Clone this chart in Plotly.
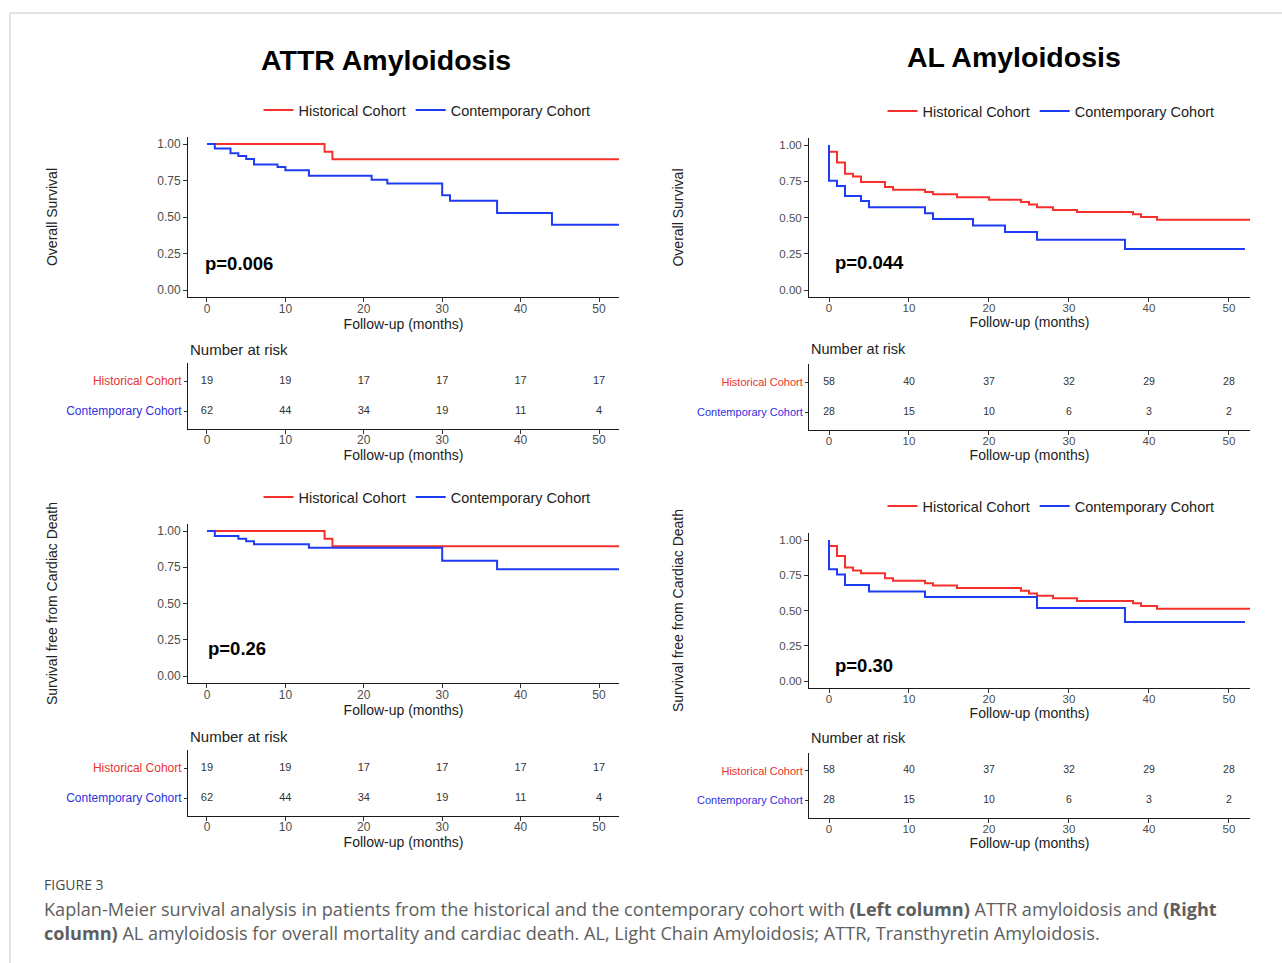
import plotly.graph_objects as go

W, H = 1282, 963
RED = "#f8302c"
BLUE = "#1f3cf5"
RED_TXT = "#e8332f"
BLUE_TXT = "#2f2fe0"
FONT = "Liberation Sans, Arial, sans-serif"

# ---------------- data ----------------
cohorts = ["Historical Cohort", "Contemporary Cohort"]
risk_times = [0, 10, 20, 30, 40, 50]

# ATTR - overall survival
attr_os_hist_t = [0, 15, 16, 53]
attr_os_hist_s = [1.0, 0.947, 0.895, 0.895]
attr_os_cont_t = [0, 1, 3, 4, 5, 6, 9, 10, 13, 21, 23, 30, 31, 37, 44, 53]
attr_os_cont_s = [1.0, 0.970, 0.936, 0.917, 0.897, 0.860, 0.842, 0.821, 0.782,
                  0.755, 0.729, 0.649, 0.612, 0.528, 0.447, 0.447]

# AL - overall survival
al_os_hist_t = [0, 0, 1, 2, 3, 4, 7, 8, 12, 13, 16, 20, 24, 25, 26, 28, 31, 38, 39, 41, 53]
al_os_hist_s = [1.0, 0.954, 0.880, 0.802, 0.782, 0.745, 0.710, 0.692, 0.676, 0.660,
                0.639, 0.623, 0.607, 0.589, 0.570, 0.552, 0.538, 0.522, 0.503, 0.485, 0.485]
al_os_cont_t = [0, 0, 1, 2, 4, 5, 12, 13, 18, 22, 26, 37, 52]
al_os_cont_s = [1.0, 0.754, 0.717, 0.648, 0.614, 0.570, 0.529, 0.490, 0.444, 0.400,
                0.347, 0.283, 0.283]

# ATTR - survival free from cardiac death
attr_cd_hist_t = [0, 15, 16, 53]
attr_cd_hist_s = [1.0, 0.947, 0.895, 0.895]
attr_cd_cont_t = [0, 1, 4, 5, 6, 13, 30, 37, 53]
attr_cd_cont_s = [1.0, 0.966, 0.947, 0.929, 0.908, 0.885, 0.794, 0.736, 0.736]

# AL - survival free from cardiac death
al_cd_hist_t = [0, 0, 1, 2, 3, 4, 7, 8, 12, 13, 16, 24, 25, 26, 28, 31, 38, 39, 41, 53]
al_cd_hist_s = [1.0, 0.958, 0.887, 0.805, 0.784, 0.765, 0.729, 0.711, 0.694, 0.678,
                0.659, 0.640, 0.621, 0.605, 0.586, 0.567, 0.551, 0.532, 0.513, 0.513]
al_cd_cont_t = [0, 0, 1, 2, 5, 12, 26, 37, 52]
al_cd_cont_s = [1.0, 0.793, 0.755, 0.680, 0.635, 0.595, 0.518, 0.419, 0.419]

# Number at risk
attr_risk_hist = [19, 19, 17, 17, 17, 17]
attr_risk_cont = [62, 44, 34, 19, 11, 4]
al_risk_hist = [58, 40, 37, 32, 29, 28]
al_risk_cont = [28, 15, 10, 6, 3, 2]

p_values = ["p=0.006", "p=0.044", "p=0.26", "p=0.30"]
titles = ["ATTR Amyloidosis", "AL Amyloidosis"]
y_titles = ["Overall Survival", "Overall Survival",
            "Survival free from Cardiac Death", "Survival free from Cardiac Death"]
x_title = "Follow-up (months)"


def dx(a, b):
    return [a / W, b / W]


def dy(top, bottom):
    return [1 - bottom / H, 1 - top / H]


fig = go.Figure()
layout = {}

panels = [
    dict(xd=(188, 619), yd=(136.7, 297.3), xr=[-2.42, 52.55], leg=(427, 110), right=False,
         curves=((attr_os_hist_t, attr_os_hist_s), (attr_os_cont_t, attr_os_cont_s)),
         p=(-0.55, 0.18), ystand=96),
    dict(xd=(809, 1250), yd=(137.75, 297.25), xr=[-2.5, 52.63], leg=(1051, 111), right=True,
         curves=((al_os_hist_t, al_os_hist_s), (al_os_cont_t, al_os_cont_s)),
         p=(0.55, 0.19), ystand=92),
    dict(xd=(188, 619), yd=(523.75, 683.25), xr=[-2.42, 52.55], leg=(427, 497), right=False,
         curves=((attr_cd_hist_t, attr_cd_hist_s), (attr_cd_cont_t, attr_cd_cont_s)),
         p=(-0.15, 0.19), ystand=96),
    dict(xd=(809, 1250), yd=(532.95, 688.05), xr=[-2.5, 52.63], leg=(1051, 506), right=True,
         curves=((al_cd_hist_t, al_cd_hist_s), (al_cd_cont_t, al_cd_cont_s)),
         p=(0.55, 0.11), ystand=92),
]

tables = [
    dict(xd=(188, 619), yd=(363, 429), xr=[-2.42, 52.55], right=False,
         vals=(attr_risk_hist, attr_risk_cont), title_y=349),
    dict(xd=(809, 1250), yd=(364, 430), xr=[-2.5, 52.63], right=True,
         vals=(al_risk_hist, al_risk_cont), title_y=349),
    dict(xd=(188, 619), yd=(750, 816), xr=[-2.42, 52.55], right=False,
         vals=(attr_risk_hist, attr_risk_cont), title_y=736),
    dict(xd=(809, 1250), yd=(753, 818), xr=[-2.5, 52.63], right=True,
         vals=(al_risk_hist, al_risk_cont), title_y=738),
]

annotations = []

axis_common = dict(showline=True, linecolor="#1a1a1a", linewidth=1, ticks="outside",
                   ticklen=4, tickwidth=1, tickcolor="#333333", showgrid=False,
                   zeroline=False, fixedrange=True)

for i, pn in enumerate(panels):
    n = i + 1
    xa = "xaxis" if n == 1 else f"xaxis{n}"
    ya = "yaxis" if n == 1 else f"yaxis{n}"
    xr = "x" if n == 1 else f"x{n}"
    yr = "y" if n == 1 else f"y{n}"
    tfs = 11.5 if pn["right"] else 12
    layout[xa] = dict(axis_common, domain=dx(*pn["xd"]), range=pn["xr"], anchor=yr,
                      tickvals=risk_times, ticklabelstandoff=-4,
                      tickfont=dict(size=tfs, color="#4d4d4d", family=FONT),
                      title=dict(text=x_title, font=dict(size=14, color="#222", family=FONT), standoff=1))
    layout[ya] = dict(axis_common, domain=dy(*pn["yd"]), range=[-0.05, 1.05], anchor=xr,
                      tickvals=[0, 0.25, 0.5, 0.75, 1.0], tickformat=".2f",
                      tickfont=dict(size=tfs, color="#4d4d4d", family=FONT),
                      title=dict(text=y_titles[i], font=dict(size=14, color="#222", family=FONT),
                                 standoff=pn["ystand"]))
    legname = "legend" if n == 1 else f"legend{n}"
    for (t, s), name, col in zip(pn["curves"], cohorts, (RED, BLUE)):
        fig.add_trace(go.Scatter(x=t, y=s, mode="lines", name=name,
                                 line=dict(shape="hv", color=col, width=2),
                                 xaxis=xr, yaxis=yr, legend=legname, showlegend=True,
                                 hoverinfo="skip"))
    layout[legname] = dict(orientation="h", x=pn["leg"][0] / W, y=1 - pn["leg"][1] / H,
                           xanchor="center", yanchor="middle", bgcolor="rgba(0,0,0,0)",
                           font=dict(size=14.5, color="#222", family=FONT),
                           itemwidth=30, tracegroupgap=0)
    annotations.append(dict(text=f"<b>{p_values[i]}</b>", x=pn["p"][0], y=pn["p"][1],
                            xref=xr, yref=yr, xanchor="left", yanchor="middle",
                            showarrow=False, font=dict(size=18.5, color="black", family=FONT)))

for i, tb in enumerate(tables):
    n = i + 5
    xa, ya = f"xaxis{n}", f"yaxis{n}"
    xr, yr = f"x{n}", f"y{n}"
    lfs = 11 if tb["right"] else 12
    nfs = 10.5 if tb["right"] else 11
    layout[xa] = dict(axis_common, domain=dx(*tb["xd"]), range=tb["xr"], anchor=yr,
                      tickvals=risk_times, ticklabelstandoff=-4,
                      tickfont=dict(size=12 if not tb["right"] else 11.5,
                                    color="#4d4d4d", family=FONT),
                      title=dict(text=x_title, font=dict(size=14, color="#222", family=FONT), standoff=1))
    layout[ya] = dict(axis_common, domain=dy(*tb["yd"]), range=[-0.6, 1.6], anchor=xr,
                      tickvals=[1, 0],
                      ticktext=[f"<span style='color:{RED_TXT}'>{cohorts[0]}</span>",
                                f"<span style='color:{BLUE_TXT}'>{cohorts[1]}</span>"],
                      tickfont=dict(size=lfs, family=FONT), ticklen=3)
    for row_y, vals in zip((1, 0), tb["vals"]):
        fig.add_trace(go.Scatter(x=risk_times, y=[row_y] * len(vals), mode="text",
                                 text=[str(v) for v in vals], showlegend=False,
                                 textfont=dict(size=nfs, color="#333333", family=FONT),
                                 xaxis=xr, yaxis=yr, hoverinfo="skip"))
    annotations.append(dict(text="Number at risk", x=tb["xd"][0] / W, y=1 - tb["title_y"] / H,
                            xref="paper", yref="paper", xanchor="left", yanchor="middle",
                            showarrow=False,
                            font=dict(size=14.5 if tb["right"] else 15, color="#222", family=FONT)))

# column titles
annotations.append(dict(text="<b>ATTR Amyloidosis</b>", x=386 / W, y=1 - 60 / H, xref="paper",
                        yref="paper", showarrow=False, xanchor="center", yanchor="middle",
                        font=dict(size=28.5, color="black", family=FONT)))
annotations.append(dict(text="<b>AL Amyloidosis</b>", x=1014 / W, y=1 - 57 / H, xref="paper",
                        yref="paper", showarrow=False, xanchor="center", yanchor="middle",
                        font=dict(size=28.5, color="black", family=FONT)))

# caption
CAP_FONT = "Open Sans, Noto Sans, sans-serif"
annotations.append(dict(text="FIGURE 3", x=42 / W, y=1 - 884 / H, xref="paper", yref="paper",
                        showarrow=False, xanchor="left", yanchor="middle",
                        font=dict(size=14, color="#4a4a4a", family=CAP_FONT)))
annotations.append(dict(
    text="Kaplan-Meier survival analysis in patients from the historical and the contemporary cohort "
         "with <b>(Left column)</b> ATTR amyloidosis and <b>(Right</b>",
    x=42 / W, y=1 - 909 / H, xref="paper", yref="paper", showarrow=False, xanchor="left",
    yanchor="middle", font=dict(size=18.1, color="#5e5e5e", family=CAP_FONT)))
annotations.append(dict(
    text="<b>column)</b> AL amyloidosis for overall mortality and cardiac death. AL, Light Chain "
         "Amyloidosis; ATTR, Transthyretin Amyloidosis.",
    x=42 / W, y=1 - 933 / H, xref="paper", yref="paper", showarrow=False, xanchor="left",
    yanchor="middle", font=dict(size=18.1, color="#5e5e5e", family=CAP_FONT)))

shapes = [
    dict(type="line", xref="paper", yref="paper", x0=10 / W, x1=1, y0=1 - 13 / H, y1=1 - 13 / H,
         line=dict(color="#c8c8c8", width=1)),
    dict(type="line", xref="paper", yref="paper", x0=10 / W, x1=10 / W, y0=0, y1=1 - 13 / H,
         line=dict(color="#c8c8c8", width=1)),
]

fig.update_layout(**layout)
fig.update_layout(width=W, height=H, margin=dict(l=0, r=0, t=0, b=0),
                  paper_bgcolor="white", plot_bgcolor="white",
                  font=dict(family=FONT, color="#222"),
                  annotations=annotations, shapes=shapes, hovermode=False)

fig.write_html("out.html", config={"displayModeBar": False})
